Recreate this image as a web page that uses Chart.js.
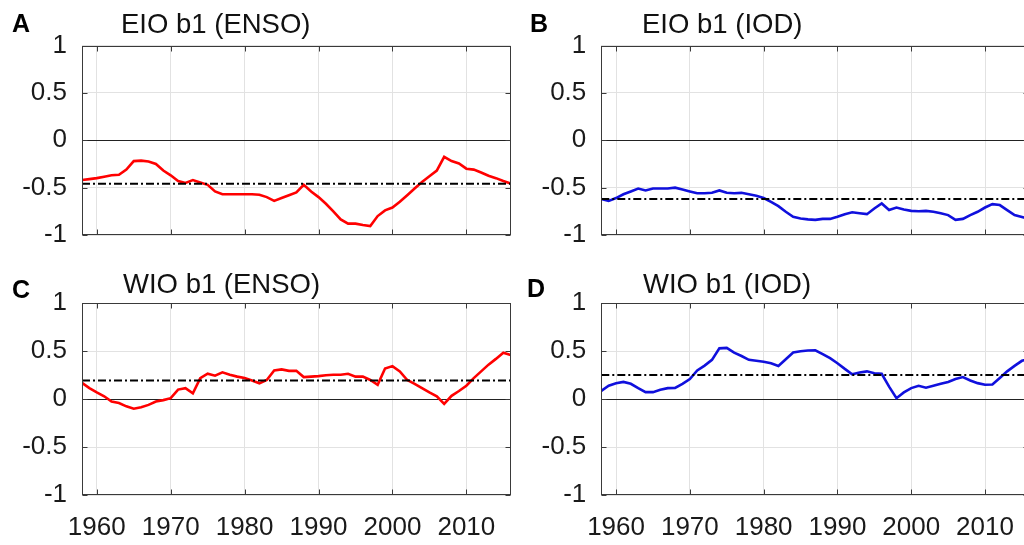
<!DOCTYPE html>
<html><head><meta charset="utf-8">
<script src="https://cdn.jsdelivr.net/npm/chart.js@4.4.1/dist/chart.umd.min.js"></script>
<style>
html,body{margin:0;padding:0;width:1024px;height:545px;overflow:hidden;background:#fff;position:relative;}
canvas{position:absolute;}
.ttl{position:absolute;font-family:"Liberation Sans",Arial,sans-serif;font-size:27.5px;line-height:27px;color:#111;white-space:nowrap;}
.lab{position:absolute;font-family:"Liberation Sans",Arial,sans-serif;font-weight:bold;font-size:25px;line-height:25px;color:#000;}
</style></head><body>
<canvas id="cA" width="512" height="250" style="left:0;top:0"></canvas>
<canvas id="cB" width="520" height="250" style="left:512px;top:0"></canvas>
<canvas id="cC" width="512" height="285" style="left:0;top:260px"></canvas>
<canvas id="cD" width="520" height="285" style="left:512px;top:260px"></canvas>
<div class="lab" style="left:12px;top:11px">A</div>
<div class="lab" style="left:530px;top:11px">B</div>
<div class="lab" style="left:12px;top:277px">C</div>
<div class="lab" style="left:527px;top:276px">D</div>
<div class="ttl" style="left:121px;top:10px">EIO b1 (ENSO)</div>
<div class="ttl" style="left:642px;top:10px">EIO b1 (IOD)</div>
<div class="ttl" style="left:123px;top:270px">WIO b1 (ENSO)</div>
<div class="ttl" style="left:643px;top:270px">WIO b1 (IOD)</div>
<script>
// ---- data ----
const years = [1958,1959,1960,1961,1962,1963,1964,1965,1966,1967,1968,1969,1970,1971,1972,1973,1974,1975,1976,1977,1978,1979,
  1980,1981,1982,1983,1984,1985,1986,1987,1988,1989,1990,1991,1992,1993,1994,1995,1996,1997,1998,1999,
  2000,2001,2002,2003,2004,2005,2006,2007,2008,2009,2010,2011,2012,2013,2014,2015,2016];
const xRange = [1958, 2016];
const xTicks = [1960,1970,1980,1990,2000,2010];
const xTickLabels = ['1960','1970','1980','1990','2000','2010'];
const yTicks = [-1,-0.5,0,0.5,1];
const yTickLabels = ['-1','-0.5','0','0.5','1'];

const eioEnso = [-0.42,-0.41,-0.40,-0.385,-0.37,-0.365,-0.31,-0.22,-0.215,-0.225,-0.25,-0.32,-0.37,-0.43,-0.45,-0.42,-0.445,-0.47,-0.54,-0.57,-0.57,-0.57,
  -0.57,-0.57,-0.575,-0.60,-0.64,-0.61,-0.58,-0.55,-0.47,-0.54,-0.60,-0.67,-0.75,-0.835,-0.88,-0.88,-0.895,-0.905,-0.80,-0.74,
  -0.71,-0.65,-0.58,-0.51,-0.44,-0.38,-0.32,-0.175,-0.22,-0.245,-0.30,-0.31,-0.34,-0.375,-0.40,-0.43,-0.456];
const eioIod = [-0.62,-0.64,-0.61,-0.57,-0.54,-0.51,-0.53,-0.51,-0.51,-0.51,-0.50,-0.52,-0.54,-0.56,-0.56,-0.555,-0.53,-0.555,-0.56,-0.555,-0.57,-0.585,
  -0.61,-0.65,-0.695,-0.755,-0.807,-0.825,-0.835,-0.84,-0.83,-0.83,-0.807,-0.78,-0.76,-0.77,-0.78,-0.72,-0.667,-0.737,-0.71,-0.73,
  -0.745,-0.75,-0.745,-0.755,-0.77,-0.79,-0.84,-0.83,-0.79,-0.755,-0.71,-0.674,-0.684,-0.737,-0.79,-0.81,-0.83];
const wioEnso = [0.17,0.115,0.07,0.03,-0.025,-0.04,-0.075,-0.10,-0.085,-0.06,-0.025,-0.01,0.01,0.10,0.115,0.06,0.22,0.265,0.245,0.28,0.255,0.235,
  0.22,0.195,0.165,0.20,0.30,0.31,0.295,0.295,0.23,0.235,0.24,0.25,0.255,0.255,0.265,0.235,0.235,0.20,0.15,0.32,
  0.345,0.29,0.20,0.16,0.115,0.07,0.03,-0.05,0.035,0.085,0.14,0.22,0.29,0.36,0.42,0.485,0.46];
const wioIod = [0.087,0.14,0.165,0.18,0.16,0.115,0.073,0.073,0.097,0.115,0.118,0.16,0.21,0.30,0.35,0.41,0.53,0.535,0.486,0.45,0.41,0.40,
  0.39,0.375,0.347,0.417,0.486,0.50,0.507,0.51,0.47,0.427,0.375,0.316,0.26,0.278,0.29,0.27,0.264,0.13,0.01,0.07,
  0.115,0.14,0.12,0.14,0.16,0.18,0.21,0.23,0.195,0.167,0.15,0.153,0.22,0.29,0.347,0.40,0.42];
const means = {A:-0.46, B:-0.62, C:0.195, D:0.253};

const RED = '#ff0000', BLUE = '#1010dd';
Chart.defaults.font.family = "'Liberation Sans', Arial, sans-serif";
Chart.defaults.color = '#1a1a1a';

const boxPlugin = {
  id: 'matlabBox',
  afterDraw(chart) {
    const {ctx, chartArea: a, scales: {x, y}} = chart;
    ctx.save();
    ctx.strokeStyle = '#3a3a3a';
    ctx.lineWidth = 1;
    const L = Math.round(a.left) + 0.5, R = Math.round(a.right) - 0.5;
    const T = Math.round(a.top) + 0.5, B = Math.round(a.bottom) - 0.5;
    ctx.strokeRect(L, T, R - L, B - T);
    ctx.beginPath();
    x.ticks.forEach(t => {
      const px = Math.round(x.getPixelForValue(t.value)) + 0.5;
      ctx.moveTo(px, T); ctx.lineTo(px, T + 5);
      ctx.moveTo(px, B); ctx.lineTo(px, B - 5);
    });
    y.ticks.forEach(t => {
      const py = Math.round(y.getPixelForValue(t.value)) + 0.5;
      ctx.moveTo(L, py); ctx.lineTo(L + 5, py);
      ctx.moveTo(R, py); ctx.lineTo(R - 5, py);
    });
    ctx.stroke();
    ctx.restore();
  }
};

function makeChart(id, values, mean, color, geom) {
  const pts = years.map((yr, i) => ({x: yr, y: values[i]}));
  const meanPts = xRange.map(v => ({x: v, y: mean}));
  return new Chart(document.getElementById(id), {
    type: 'line',
    data: {
      datasets: [
        {data: meanPts, borderColor: '#000', borderWidth: 2, borderDash: [8, 3, 2, 3], pointRadius: 0, tension: 0},
        {data: pts, borderColor: color, borderWidth: 2.6, pointRadius: 0, tension: 0}
      ]
    },
    options: {
      responsive: false,
      animation: false,
      events: [],
      layout: {padding: {top: geom.top, right: geom.right, left: 0, bottom: 0}},
      plugins: {legend: {display: false}, tooltip: {enabled: false}, title: {display: false}},
      scales: {
        x: {
          type: 'linear', min: xRange[0], max: xRange[1],
          afterBuildTicks: s => { s.ticks = xTicks.map(v => ({value: v})); },
          afterFit: s => { s.height = geom.xh; s.paddingLeft = 0; s.paddingRight = 0; },
          grid: {color: '#e2e2e2', lineWidth: 1, drawTicks: false},
          border: {display: false},
          ticks: {display: geom.showX, font: {size: 26}, color: '#1a1a1a', padding: 17, maxRotation: 0,
                  callback: (v, i) => xTickLabels[i]}
        },
        y: {
          type: 'linear', min: -1, max: 1,
          afterBuildTicks: s => { s.ticks = yTicks.map(v => ({value: v})); },
          afterFit: s => { s.width = geom.yw; s.paddingTop = 0; s.paddingBottom = 0; },
          grid: {color: c => (c.tick && c.tick.value === 0) ? '#222' : '#e2e2e2', lineWidth: 1, drawTicks: false},
          border: {display: false},
          ticks: {font: {size: 26}, color: '#1a1a1a', padding: 15, callback: (v, i) => yTickLabels[i]}
        }
      }
    },
    plugins: [boxPlugin]
  });
}

makeChart('cA', eioEnso, means.A, RED,  {top: 45.5, right: 1.3, xh: 15, yw: 82, showX: false});
makeChart('cB', eioIod,  means.B, BLUE, {top: 45.5, right: 2.7, xh: 15, yw: 89.3, showX: false});
makeChart('cC', wioEnso, means.C, RED,  {top: 43.3, right: 1.3, xh: 50, yw: 82, showX: true});
makeChart('cD', wioIod,  means.D, BLUE, {top: 43.3, right: 2.7, xh: 50, yw: 89.3, showX: true});
</script>
</body></html>
